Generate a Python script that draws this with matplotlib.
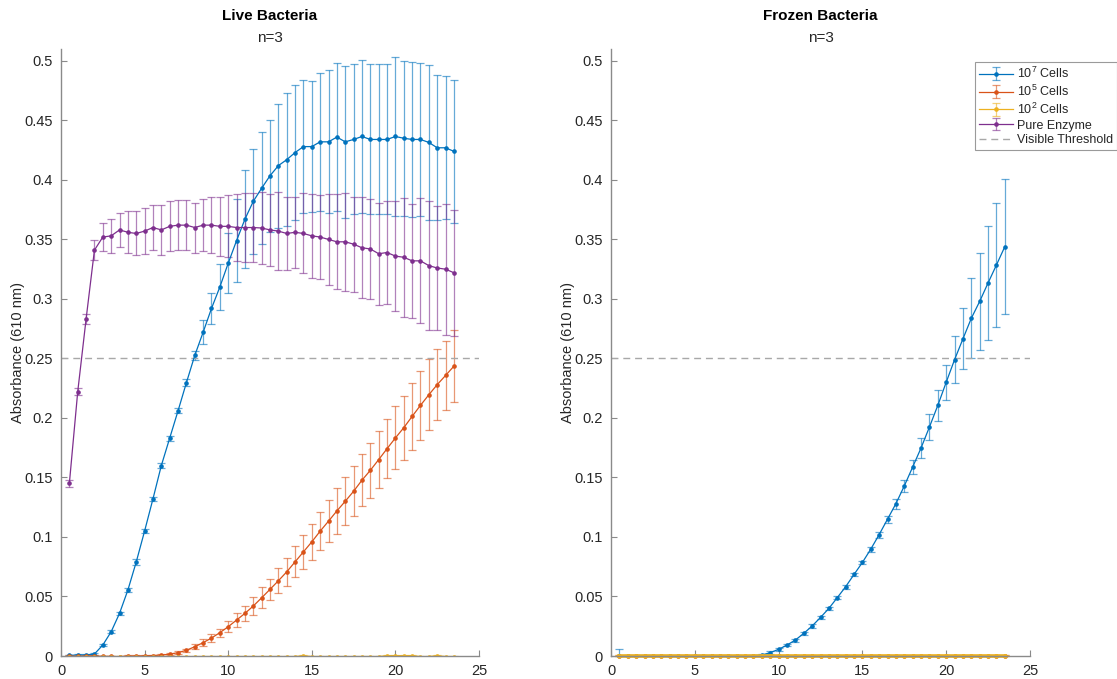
import numpy as np
import matplotlib.pyplot as plt
import matplotlib.ticker as mticker

plt.rcParams['font.family'] = ['Liberation Sans', 'DejaVu Sans']
plt.rcParams['mathtext.default'] = 'regular'

# ── data ────────────────────────────────────────────────────────────────────
time_h = np.arange(0.5, 24.0, 0.5)   # 0.5 .. 23.5 h, 47 readings

live_e7 = [0.0005, 0.0008, 0.0008, 0.0017, 0.0092, 0.0204, 0.0358, 0.0554, 0.079, 0.105,
           0.132, 0.160, 0.183, 0.206, 0.2296, 0.2525, 0.272, 0.292, 0.310, 0.330,
           0.349, 0.367, 0.382, 0.393, 0.4035, 0.412, 0.417, 0.423, 0.428, 0.428,
           0.432, 0.432, 0.436, 0.432, 0.434, 0.4365, 0.434, 0.434, 0.434, 0.4365,
           0.435, 0.434, 0.434, 0.4315, 0.427, 0.427, 0.424]
live_e7_err = [0.0005, 0.0005, 0.0005, 0.0008, 0.001, 0.0012, 0.0012, 0.0015, 0.0025, 0.002,
               0.002, 0.002, 0.002, 0.002, 0.003, 0.004, 0.010, 0.013, 0.0196, 0.025,
               0.035, 0.041, 0.044, 0.047, 0.047, 0.052, 0.056, 0.057, 0.056, 0.055,
               0.058, 0.060, 0.062, 0.064, 0.063, 0.064, 0.063, 0.063, 0.063, 0.067,
               0.065, 0.065, 0.064, 0.065, 0.061, 0.060, 0.060]

live_e5 = [0.0, -0.0003, 0.0, 0.0, -0.0003, -0.0003, -0.0006, 0.0, 0.0, 0.0002,
           0.0004, 0.0008, 0.0015, 0.0028, 0.0048, 0.0078, 0.0112, 0.0151, 0.0196, 0.0246,
           0.0302, 0.0358, 0.042, 0.0489, 0.056, 0.0632, 0.0707, 0.0791, 0.0875, 0.0959,
           0.1049, 0.1133, 0.1219, 0.130, 0.1384, 0.1477, 0.156, 0.165, 0.1742, 0.1832,
           0.1918, 0.2013, 0.2106, 0.2195, 0.228, 0.2357, 0.2435]
live_e5_err = [0.0005, 0.0005, 0.0005, 0.0005, 0.0005, 0.0005, 0.0005, 0.0005, 0.0005, 0.0005,
               0.0006, 0.0008, 0.001, 0.0012, 0.0015, 0.002, 0.0028, 0.003, 0.0035, 0.0045,
               0.0056, 0.006, 0.0073, 0.0087, 0.009, 0.0105, 0.0117, 0.013, 0.0145, 0.015,
               0.016, 0.0177, 0.019, 0.020, 0.021, 0.022, 0.023, 0.024, 0.025, 0.0265,
               0.027, 0.028, 0.029, 0.030, 0.030, 0.029, 0.030]

live_e2 = [-0.0005, -0.0005, -0.0005, -0.0005, -0.0005, -0.0005, -0.0005, -0.0005, -0.0005, -0.0005,
           -0.0005, -0.0005, -0.0005, -0.0005, -0.0005, -0.0005, -0.0005, -0.0005, -0.0005, -0.0005,
           -0.0005, -0.0005, -0.0005, -0.0005, -0.0005, -0.0005, -0.0005, -0.0005, 0.0003, -0.0005,
           -0.0005, -0.0005, -0.0005, -0.0005, -0.0005, -0.0005, -0.0005, -0.0005, 0.0003, 0.0003,
           0.0003, 0.0003, -0.0005, -0.0005, 0.0003, -0.0005, -0.0005]
live_e2_err = [0.0003] * 47

live_enzyme = [0.145, 0.222, 0.283, 0.341, 0.352, 0.353, 0.358, 0.356, 0.355, 0.357,
               0.360, 0.358, 0.361, 0.362, 0.362, 0.360, 0.362, 0.362, 0.361, 0.361,
               0.360, 0.360, 0.360, 0.3596, 0.358, 0.357, 0.355, 0.356, 0.355, 0.353,
               0.352, 0.350, 0.348, 0.348, 0.346, 0.343, 0.342, 0.338, 0.339, 0.336,
               0.335, 0.332, 0.332, 0.328, 0.326, 0.325, 0.322]
live_enzyme_err = [0.003, 0.003, 0.004, 0.0085, 0.012, 0.014, 0.014, 0.0175, 0.0185, 0.019,
                   0.019, 0.021, 0.021, 0.021, 0.021, 0.021, 0.022, 0.0235, 0.025, 0.026,
                   0.0285, 0.029, 0.029, 0.030, 0.030, 0.033, 0.031, 0.030, 0.0336, 0.0355,
                   0.035, 0.038, 0.040, 0.041, 0.040, 0.0425, 0.0417, 0.043, 0.0436, 0.046,
                   0.050, 0.048, 0.0526, 0.054, 0.052, 0.055, 0.053]

frozen_e7 = [0.0003, 0.0002, 0.0002, 0.0002, 0.0002, 0.0002, 0.0002, 0.0002, 0.0002, 0.0002,
             0.0002, 0.0002, 0.0002, 0.0002, 0.0002, -0.0012, 0.0003, 0.0008, 0.0028, 0.0056,
             0.0092, 0.0134, 0.019, 0.0252, 0.0324, 0.040, 0.049, 0.0582, 0.0685, 0.0786,
             0.0898, 0.102, 0.115, 0.128, 0.1429, 0.1588, 0.1748, 0.1924, 0.2106, 0.230,
             0.249, 0.2665, 0.2838, 0.298, 0.3135, 0.3286, 0.344]
frozen_e7_err = [0.006, 0.0005, 0.0005, 0.0005, 0.0005, 0.0005, 0.0005, 0.0005, 0.0005, 0.0005,
                 0.0005, 0.0005, 0.0005, 0.0005, 0.0005, 0.0005, 0.0008, 0.001, 0.001, 0.0012,
                 0.0012, 0.0013, 0.0015, 0.0015, 0.0015, 0.0015, 0.0015, 0.0015, 0.0015, 0.0015,
                 0.002, 0.0025, 0.003, 0.0042, 0.0048, 0.006, 0.0084, 0.011, 0.013, 0.0145,
                 0.0195, 0.0255, 0.0335, 0.041, 0.048, 0.052, 0.057]

frozen_e5 = [0.0002] * 47
frozen_e5_err = [0.0003] * 47
frozen_e2 = [0.0004] * 47
frozen_e2_err = [0.0004] * 47

threshold = 0.25

# ── style ───────────────────────────────────────────────────────────────────
C_BLUE, C_ORANGE, C_YELLOW, C_PURPLE = '#0072BD', '#D95319', '#EDB120', '#7E2F8E'
AX_GREY = '#8a8a8a'
TXT = '#262626'


def series(ax, y, err, color, label, lw=0.9, clip=True):
    return ax.errorbar(time_h, y, yerr=err, color=color, lw=lw, marker='o', ms=2.3,
                       mec=color, ecolor=color + '99', elinewidth=0.9, capsize=3.2,
                       capthick=0.9, label=label, clip_on=clip)


def style_axes(ax):
    ax.set_xlim(0, 25)
    ax.set_ylim(0, 0.51)
    ax.set_xticks(np.arange(0, 26, 5))
    ax.set_yticks(np.arange(0, 0.501, 0.05))
    ax.yaxis.set_major_formatter(mticker.FuncFormatter(lambda v, _: f"{v:g}"))
    for s in ('top', 'right'):
        ax.spines[s].set_visible(False)
    for s in ('left', 'bottom'):
        ax.spines[s].set_color(AX_GREY)
        ax.spines[s].set_linewidth(1.0)
    ax.tick_params(direction='in', length=4, color=AX_GREY, labelcolor=TXT, labelsize=10.5)
    ax.tick_params(axis='x', pad=6)
    ax.tick_params(axis='y', pad=6)
    ax.set_ylabel('Absorbance (610 nm)', fontsize=10.5, color=TXT)


W, H = 1117, 679
fig = plt.figure(figsize=(W / 100, H / 100), dpi=100)
ax1 = fig.add_axes([61 / W, 23 / H, 418 / W, 607 / H])
ax2 = fig.add_axes([611 / W, 23 / H, 419 / W, 607 / H])

# left: live bacteria
h7 = series(ax1, live_e7, live_e7_err, C_BLUE, '10$^7$ Cells')
h5 = series(ax1, live_e5, live_e5_err, C_ORANGE, '10$^5$ Cells')
h2 = series(ax1, live_e2, live_e2_err, C_YELLOW, '10$^2$ Cells')
hp = series(ax1, live_enzyme, live_enzyme_err, C_PURPLE, 'Pure Enzyme')
ht, = ax1.plot([0, 25], [threshold, threshold], ls=(0, (5, 3.5)), color='#a8a8a8', lw=1.0,
               label='Visible Threshold')

# right: frozen bacteria
series(ax2, frozen_e7, frozen_e7_err, C_BLUE, '10$^7$ Cells')
series(ax2, frozen_e5, frozen_e5_err, C_ORANGE, '10$^5$ Cells', clip=False)
series(ax2, frozen_e2, frozen_e2_err, C_YELLOW, '10$^2$ Cells', lw=2.6, clip=False)
ax2.plot([0, 25], [threshold, threshold], ls=(0, (5, 3.5)), color='#a8a8a8', lw=1.0)

for ax, title, xc in ((ax1, 'Live Bacteria', 270), (ax2, 'Frozen Bacteria', 820.5)):
    style_axes(ax)
    fig.text(xc / W, 1 - 16 / H, title, ha='center', va='center', fontsize=11,
             fontweight='bold', color='black')
    fig.text(xc / W, 1 - 38 / H, 'n=3', ha='center', va='center', fontsize=11, color=TXT)

ax1.yaxis.set_label_coords(-(61 - 25) / 418, 0.5)
ax2.yaxis.set_label_coords(-(611 - 575) / 419, 0.5)

leg = ax2.legend(handles=[h7, h5, h2, hp, ht], loc='upper left',
                 bbox_to_anchor=(975 / W, 1 - 62 / H), bbox_transform=fig.transFigure,
                 fontsize=9, frameon=True, fancybox=False, framealpha=1,
                 edgecolor='#9a9a9a', borderpad=0.3, labelspacing=0.22,
                 handlelength=2.7, handletextpad=0.35, borderaxespad=0)
leg.get_frame().set_linewidth(0.8)
for t in leg.get_texts():
    t.set_color(TXT)

fig.savefig('out.png', dpi=100)
